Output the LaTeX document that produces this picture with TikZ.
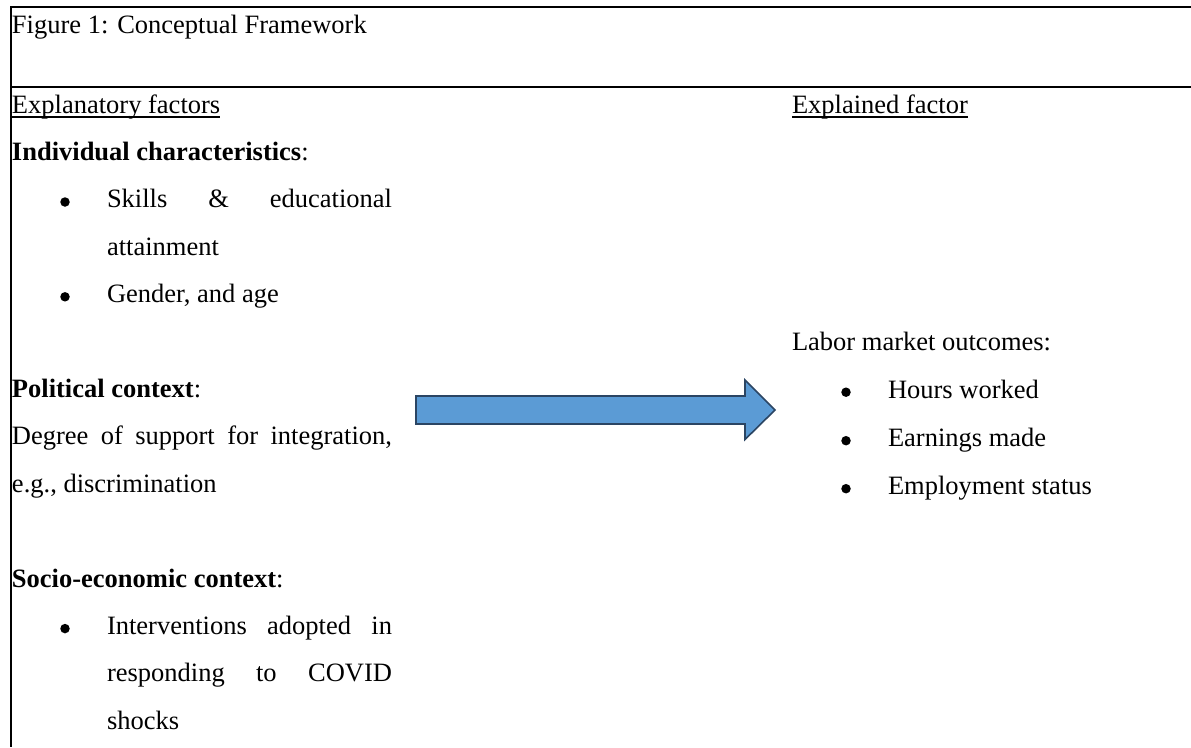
\documentclass[tikz,border=0pt]{standalone}
\usepackage{fontspec}
\setmainfont{Liberation Serif}
\definecolor{arrowfill}{HTML}{5B9BD5}
\definecolor{arrowline}{HTML}{2B4563}
\tikzset{
  txt/.style={anchor=base west, inner sep=0pt, outer sep=0pt, font=\fontsize{26.5}{30}\selectfont},
  dot/.style={circle, fill=black, inner sep=0pt, minimum size=9.5pt},
  frame/.style={line width=2pt, black},
  ul/.style={line width=1.3pt, black},
  blockarrow/.style={fill=arrowfill, draw=arrowline, line width=1.6pt, line join=miter}
}
\newcommand{\jline}[2]{\makebox[#1][s]{#2}}
\begin{document}
\begin{tikzpicture}[x=1pt,y=-1pt]
\useasboundingbox (0,0) rectangle (1191,747);
% frame
\draw[frame] (10,7) -- (1191,7);
\draw[frame] (10,87) -- (1191,87);
\draw[frame] (11,6) -- (11,747);
% title
\node[txt] (title) at (12,33) {Figure 1: Conceptual Framework};
% headings
\node[txt] (expl) at (12,113) {Explanatory factors};
\draw[ul] ([yshift=-4pt]expl.base west) -- ([yshift=-4pt]expl.base east);
\node[txt] (explained) at (792,113) {Explained factor};
\draw[ul] ([yshift=-4pt]explained.base west) -- ([yshift=-4pt]explained.base east);
% left column
\node[txt] (ind) at (12,160.4) {\textbf{Individual characteristics}:};
\node[dot] (b1) at (65,202) {};
\node[txt] (skills) at (107,207.8) {\jline{285pt}{Skills \& educational}};
\node[txt] (attain) at (107,255.2) {attainment};
\node[dot] (b2) at (65,296.8) {};
\node[txt] (gender) at (107,302.6) {Gender, and age};
\node[txt] (pol) at (12,397.4) {\textbf{Political context}:};
\node[txt] (deg) at (12,444.8) {\jline{380pt}{Degree of support for integration,}};
\node[txt] (eg) at (12,492.2) {e.g., discrimination};
\node[txt] (soc) at (12,587) {\textbf{Socio-economic context}:};
\node[dot] (b3) at (65,628.6) {};
\node[txt] (interv) at (107,634.4) {\jline{285pt}{Interventions adopted in}};
\node[txt] (resp) at (107,681.8) {\jline{285pt}{responding to COVID}};
\node[txt] (shocks) at (107,729.2) {shocks};
% right column
\node[txt] (labor) at (792,350) {Labor market outcomes:};
\node[dot] (rb1) at (846,392.2) {};
\node[txt] (hours) at (888,398) {Hours worked};
\node[dot] (rb2) at (846,440.7) {};
\node[txt] (earn) at (888,446.5) {Earnings made};
\node[dot] (rb3) at (846,488.7) {};
\node[txt] (emp) at (888,494.5) {Employment status};
% block arrow
\draw[blockarrow] (416,396) -- (745,396) -- (745,380) -- (775,410) -- (745,439.5) -- (745,424) -- (416,424) -- cycle;
\end{tikzpicture}
\end{document}
